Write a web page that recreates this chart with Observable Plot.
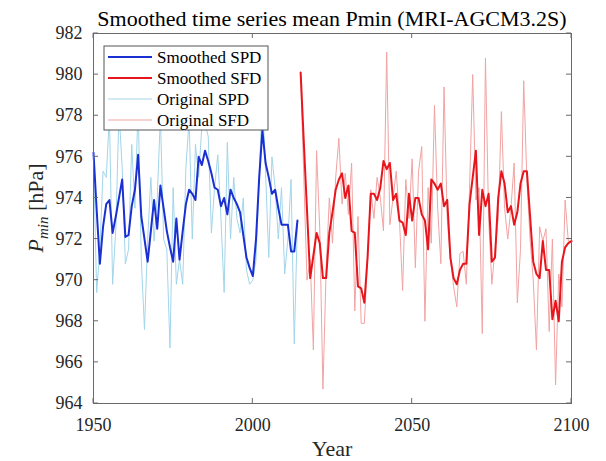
<!DOCTYPE html>
<html>
<head>
<meta charset="utf-8">
<script src="https://cdn.jsdelivr.net/npm/d3@7"></script>
<script src="https://cdn.jsdelivr.net/npm/@observablehq/plot@0.6"></script>
<style>
  html, body { margin: 0; padding: 0; background: #fff; }
  svg { display: block; }
</style>
</head>
<body>
<div id="chart"></div>
<script>
// ---- Data ----
const spdStartYear = 1950;
const sfdStartYear = 2015;

const spdSmoothed = [
  976.2, 973.4, 970.8, 972.6, 973.7, 973.9, 972.3, 973.1, 974.0, 974.9,
  972.1, 972.2, 973.6, 974.4, 976.1, 973.1, 972.0, 970.9, 972.4, 973.9,
  972.5, 974.6, 973.5, 972.4, 971.6, 970.9, 973.0, 971.0, 972.4, 973.7,
  974.4, 974.2, 973.9, 976.0, 975.6, 976.3, 975.8, 975.2, 974.5, 974.4,
  973.6, 974.0, 973.2, 974.4, 974.0, 973.7, 973.3, 972.2, 971.1, 970.6,
  970.2, 972.0, 975.0, 977.3, 975.7, 975.0, 974.2, 974.4, 973.5, 972.7,
  972.7, 972.7, 971.4, 971.4, 972.9
];

const spdOriginal = [
  976.0, 969.4, 971.5, 975.3, 975.0, 978.0, 969.8, 972.5, 978.2, 975.5,
  970.8, 971.5, 976.6, 973.5, 978.5, 971.0, 967.6, 972.0, 975.0, 971.9,
  974.0, 978.0, 972.0, 971.5, 966.7, 974.5, 969.8, 971.0, 969.8, 975.5,
  977.8, 972.0, 976.6, 975.0, 977.5, 977.6, 977.0, 972.3, 974.5, 976.1,
  973.0, 969.4, 976.7, 972.0, 975.0, 973.0, 972.3, 974.0, 970.5, 969.8,
  970.0, 971.0, 975.0, 979.0, 975.2, 971.1, 976.0, 974.5, 972.0, 974.5,
  970.3, 972.0, 974.9, 966.9, 972.9
];

const sfdSmoothed = [
  980.1, 976.7, 973.4, 970.1, 971.2, 972.3, 971.8, 970.1, 970.1, 972.3,
  973.3, 974.4, 974.9, 975.2, 974.0, 974.6, 972.4, 972.3, 969.7, 969.6,
  968.9, 971.1, 974.2, 974.2, 973.9, 974.5, 975.8, 975.4, 975.7, 973.9,
  974.2, 972.9, 972.8, 972.2, 974.2, 972.9, 974.0, 974.0, 973.2, 972.9,
  971.5, 974.9, 974.7, 974.4, 974.7, 973.6, 973.9, 971.1, 970.1, 969.8,
  970.5, 970.8, 970.8, 973.7, 975.0, 976.3, 972.2, 974.4, 973.6, 974.2,
  970.9, 971.1, 974.0, 975.3, 974.7, 973.3, 973.6, 972.7, 973.3, 974.7,
  975.3, 975.3, 973.1, 970.9, 970.3, 970.1, 971.9, 970.5, 970.5, 968.1,
  969.0, 968.0, 970.9, 971.6, 971.8, 971.9
];

const sfdOriginal = [
  980.1, 975.0, 970.0, 971.0, 966.6, 976.3, 972.5, 964.7, 970.5, 974.0,
  971.8, 975.0, 976.9, 973.7, 975.2, 973.2, 975.7, 968.5, 973.1, 967.9,
  967.9, 971.0, 974.4, 973.0, 975.0, 974.0, 972.4, 981.1, 972.7, 974.0,
  975.3, 973.0, 969.5, 974.9, 973.0, 975.9, 970.6, 975.3, 976.5, 968.0,
  974.5, 971.8, 978.5, 973.5, 970.8, 979.4, 973.0, 971.0, 969.7, 968.7,
  971.3, 971.4, 969.8, 974.4, 980.0, 973.9, 974.5, 967.4, 980.8, 973.0,
  969.8, 971.5, 973.0, 978.2, 973.5, 972.0, 973.5, 975.7, 968.9, 971.5,
  979.7, 974.9, 972.0, 970.0, 966.6, 972.6, 971.9, 972.5, 967.5, 972.0,
  964.9, 970.3, 968.7, 973.9, 971.9, 971.9
];

const xTicks = [1950, 2000, 2050, 2100];
const yTicks = [964, 966, 968, 970, 972, 974, 976, 978, 980, 982];
const xDomain = [1950, 2100];
const yDomain = [964, 982];

const titleText = "Smoothed time series mean Pmin (MRI-AGCM3.2S)";
const xLabelText = "Year";
const legendLabels = ["Smoothed SPD", "Smoothed SFD", "Original SPD", "Original SFD"];

(function () {
// ---- Styles ----
const colSmSPD = "#1a30d2";
const colSmSFD = "#e8161c";
const colOrSPD = "#a3d5ea";
const colOrSFD = "#f2a3a3";
const legendColors = [colSmSPD, colSmSFD, colOrSPD, colOrSFD];
const legendWidths = [2, 2, 1, 1];
const serif = "Liberation Serif";

const toRows = (arr, start) => arr.map((v, i) => ({year: start + i, value: v}));
const spdSm = toRows(spdSmoothed, spdStartYear);
const spdOr = toRows(spdOriginal, spdStartYear);
const sfdSm = toRows(sfdSmoothed, sfdStartYear);
const sfdOr = toRows(sfdOriginal, sfdStartYear);

const plot = Plot.plot({
  width: 606,
  height: 461,
  marginLeft: 93,
  marginRight: 35,
  marginTop: 33,
  marginBottom: 58,
  style: {fontFamily: serif, fontSize: "18px", color: "#262626", background: "#fff", overflow: "visible"},
  x: {domain: xDomain},
  y: {domain: yDomain},
  marks: [
    Plot.line(spdOr, {x: "year", y: "value", stroke: colOrSPD, strokeWidth: 1}),
    Plot.line(sfdOr, {x: "year", y: "value", stroke: colOrSFD, strokeWidth: 1}),
    Plot.line(spdSm, {x: "year", y: "value", stroke: colSmSPD, strokeWidth: 2}),
    Plot.line(sfdSm, {x: "year", y: "value", stroke: colSmSFD, strokeWidth: 2}),
    Plot.frame({stroke: "#6a6a6a", strokeWidth: 1}),
    Plot.axisX({ticks: xTicks, tickSize: 0, tickPadding: 15, tickFormat: d => String(d), label: null,
                fontSize: 18, fontFamily: serif, fontVariant: "normal", fill: "#262626"}),
    Plot.axisY({ticks: yTicks, tickSize: 0, tickPadding: 11, tickFormat: d => String(d), label: null,
                fontSize: 18, fontFamily: serif, fontVariant: "normal", fill: "#262626"})
  ]
});

document.getElementById("chart").appendChild(plot);

// ---- Decorations (MATLAB-style inward ticks, title, labels, legend) ----
const svg = d3.select(plot);
svg.selectAll("text").attr("font-family", serif).style("font-family", serif);
const sx = plot.scale("x"), sy = plot.scale("y");
const pL = sx.apply(xDomain[0]), pR = sx.apply(xDomain[1]);
const pB = sy.apply(yDomain[0]), pT = sy.apply(yDomain[1]);
const tk = 5;
const tg = svg.append("g").attr("stroke", "#6a6a6a").attr("stroke-width", 1);
xTicks.forEach(t => {
  const x = sx.apply(t);
  tg.append("line").attr("x1", x).attr("x2", x).attr("y1", pB).attr("y2", pB - tk);
  tg.append("line").attr("x1", x).attr("x2", x).attr("y1", pT).attr("y2", pT + tk);
});
yTicks.forEach(t => {
  const y = sy.apply(t);
  tg.append("line").attr("x1", pL).attr("x2", pL + tk).attr("y1", y).attr("y2", y);
  tg.append("line").attr("x1", pR).attr("x2", pR - tk).attr("y1", y).attr("y2", y);
});

const cx = (pL + pR) / 2;
svg.append("text")
  .attr("x", cx).attr("y", 26)
  .attr("text-anchor", "middle")
  .style("font-family", serif).style("font-size", "22px")
  .attr("fill", "#000")
  .text(titleText);

svg.append("text")
  .attr("x", cx).attr("y", 456)
  .attr("text-anchor", "middle")
  .style("font-family", serif).style("font-size", "22px")
  .attr("fill", "#262626")
  .text(xLabelText);

const yl = svg.append("text")
  .attr("transform", `translate(43, ${(pT + pB) / 2 - 10}) rotate(-90)`)
  .attr("text-anchor", "middle")
  .style("font-family", serif).style("font-size", "22px")
  .attr("fill", "#262626");
yl.append("tspan").attr("font-style", "italic").text("P");
yl.append("tspan").attr("font-style", "italic").style("font-size", "15px").attr("dy", 5).text("min");
yl.append("tspan").attr("dy", -5).text(" [hPa]");

// Legend
const lg = svg.append("g");
const lx = pL + 11, ly = pT + 13, lw = 164, lh = 84;
lg.append("rect").attr("x", lx).attr("y", ly).attr("width", lw).attr("height", lh)
  .attr("fill", "#fff").attr("stroke", "#555").attr("stroke-width", 1);
legendLabels.forEach((lab, i) => {
  const y = ly + 11 + i * 21;
  lg.append("line").attr("x1", lx + 4).attr("x2", lx + 48).attr("y1", y).attr("y2", y)
    .attr("stroke", legendColors[i]).attr("stroke-width", legendWidths[i]);
  lg.append("text").attr("x", lx + 53).attr("y", y).attr("dy", "0.35em")
    .attr("text-anchor", "start")
    .style("font-family", serif).style("font-size", "17px").attr("fill", "#000")
    .text(lab);
});
})();
</script>
</body>
</html>
